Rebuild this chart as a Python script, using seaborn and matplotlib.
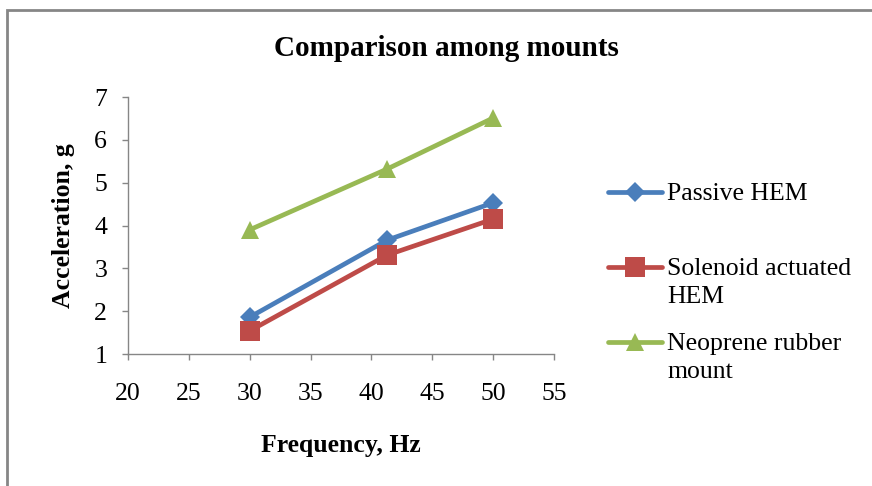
import numpy as np
import pandas as pd
import matplotlib
matplotlib.use("Agg")
import matplotlib.pyplot as plt
import seaborn as sns
from matplotlib.patches import Rectangle

# values
frequency = [30, 41.3, 50]
passive_hem = [1.86, 3.66, 4.53]
solenoid_hem = [1.54, 3.31, 4.15]
neoprene = [3.90, 5.32, 6.51]

series_names = ["Passive HEM\n", "Solenoid actuated\nHEM", "Neoprene rubber\nmount"]
series_values = [passive_hem, solenoid_hem, neoprene]
colors = ["#4A7EBB", "#BE4B48", "#98B954"]
markers = ["D", "s", "^"]
marker_sizes = [10, 14, 13.5]

x_ticks = [20, 25, 30, 35, 40, 45, 50, 55]
y_ticks = [1, 2, 3, 4, 5, 6, 7]

sns.set_style("white")
plt.rcParams["font.family"] = ["Liberation Serif", "DejaVu Serif"]
plt.rcParams["text.color"] = "black"
plt.rcParams["axes.labelcolor"] = "black"
plt.rcParams["xtick.labelcolor"] = "black"
plt.rcParams["ytick.labelcolor"] = "black"

fig = plt.figure(figsize=(8.72, 4.86), dpi=100)
ax = fig.add_axes([128 / 872, 1 - 354 / 486, 426 / 872, 257 / 486])

for name, vals, c, m, ms in zip(series_names, series_values, colors, markers, marker_sizes):
    df = pd.DataFrame({"freq": frequency, "acc": vals})
    sns.lineplot(data=df, x="freq", y="acc", color=c, marker=m, markersize=ms,
                 markeredgewidth=0, linewidth=3.4, label=name, ax=ax, legend=False)

ax.set_xlim(20, 55)
ax.set_ylim(1, 7)
ax.set_xticks(x_ticks)
ax.set_yticks(y_ticks)
ax.tick_params(axis="both", direction="out", length=4, width=1, color="#868686",
               labelsize=18.5, left=True, bottom=True)
ax.tick_params(axis="x", pad=17)
ax.tick_params(axis="y", pad=11)
for side in ["top", "right"]:
    ax.spines[side].set_visible(False)
for side in ["left", "bottom"]:
    ax.spines[side].set_color("#868686")
    ax.spines[side].set_linewidth(1)

ax.set_xlabel("Frequency, Hz", fontsize=18.5, fontweight="bold", labelpad=21)
ax.set_ylabel("Acceleration, g", fontsize=18.5, fontweight="bold", labelpad=14)
fig.text(446 / 872, 1 - 48 / 486, "Comparison among mounts", ha="center", va="center",
         fontsize=21, fontweight="bold")

leg = ax.legend(loc="upper left", bbox_to_anchor=(608 / 872, 1 - 183 / 486),
                bbox_transform=fig.transFigure, frameon=False, fontsize=18.5,
                handlelength=2.1, handletextpad=0.2, labelspacing=0.95,
                borderpad=0, borderaxespad=0)
for t in leg.get_texts():
    t.set_linespacing(1.38)
for hp in leg._legend_handle_box.get_children()[0].get_children():
    hp.align = "top"

fig.patches.append(Rectangle((7 / 872, -0.1), 1.2, 1 - 10 / 486 + 0.1,
                             transform=fig.transFigure, fill=False,
                             edgecolor="#868686", linewidth=2))

fig.savefig("out.png", dpi=100, facecolor="white")
